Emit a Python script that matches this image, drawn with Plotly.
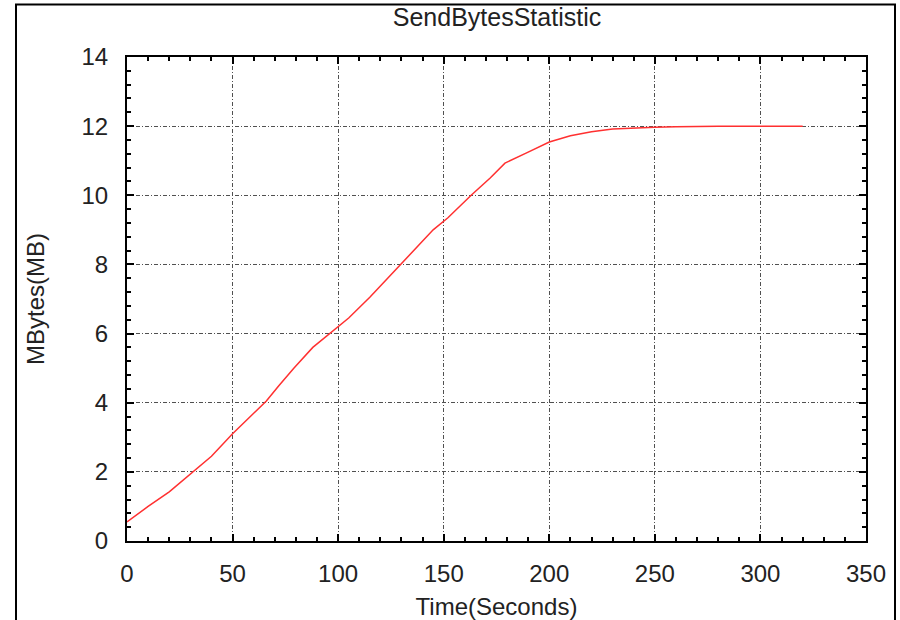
import plotly.graph_objects as go

time_s = [0, 10, 20, 30, 40, 50, 60, 66, 72, 79, 88, 96, 105, 115, 125, 135, 145, 152,
          163, 172, 179, 190, 200, 210, 220, 230, 240, 250, 260, 270, 280, 290, 300, 310, 320]
mbytes = [0.55, 1.0, 1.42, 1.93, 2.45, 3.1, 3.7, 4.05, 4.5, 5.0, 5.6, 6.0, 6.45, 7.05, 7.7,
          8.35, 9.0, 9.35, 10.0, 10.5, 10.93, 11.25, 11.54, 11.72, 11.84, 11.92, 11.95,
          11.97, 11.98, 12.0, 12.0, 12.0, 12.0, 12.0, 12.0]

x_ticks = [0, 50, 100, 150, 200, 250, 300, 350]
y_ticks = [0, 2, 4, 6, 8, 10, 12, 14]

FONT = "Liberation Sans, Arial, Helvetica, sans-serif"

fig = go.Figure()
fig.add_trace(go.Scatter(x=time_s, y=mbytes, mode="lines",
                         line=dict(color="#ff3030", width=1.5),
                         showlegend=False, hoverinfo="skip"))

axis_common = dict(
    showline=True, linecolor="black", linewidth=2, mirror="ticks",
    ticks="inside", ticklen=7, tickwidth=2, tickcolor="black",
    showgrid=True, gridcolor="#505050", gridwidth=1, griddash="4px,2px,1px,2px",
    zeroline=False,
    tickfont=dict(family=FONT, size=24, color="#222"),
)

fig.update_xaxes(range=[0, 350], tickvals=x_ticks, ticklabelstandoff=10,
                 minor=dict(dtick=10, ticks="inside", ticklen=4, tickwidth=2,
                            tickcolor="black", showgrid=False),
                 title=dict(text="Time(Seconds)", font=dict(family=FONT, size=24, color="#222"),
                            standoff=16),
                 **axis_common)
fig.update_yaxes(range=[0, 14], tickvals=y_ticks, ticklabelstandoff=12,
                 minor=dict(dtick=0.4, tick0=0, ticks="inside", ticklen=4, tickwidth=2,
                            tickcolor="black", showgrid=False),
                 title=dict(text="MBytes(MB)", font=dict(family=FONT, size=24, color="#222"),
                            standoff=30),
                 **axis_common)

fig.add_shape(type="rect", xref="paper", yref="paper",
              x0=(16 - 127) / 739, x1=(895 - 127) / 739,
              y0=(541 - 640) / 484, y1=(541 - 4.5) / 484,
              line=dict(color="black", width=2), fillcolor="rgba(0,0,0,0)", layer="below")

fig.update_layout(
    width=900, height=620,
    margin=dict(l=127, r=34, t=57, b=79, autoexpand=False),
    paper_bgcolor="white", plot_bgcolor="white",
    title=dict(text="SendBytesStatistic", x=497 / 900, xanchor="center",
               y=1 - 17 / 620, yanchor="middle", yref="container",
               font=dict(family=FONT, size=25, color="#222")),
)

fig.write_html("out.html")
